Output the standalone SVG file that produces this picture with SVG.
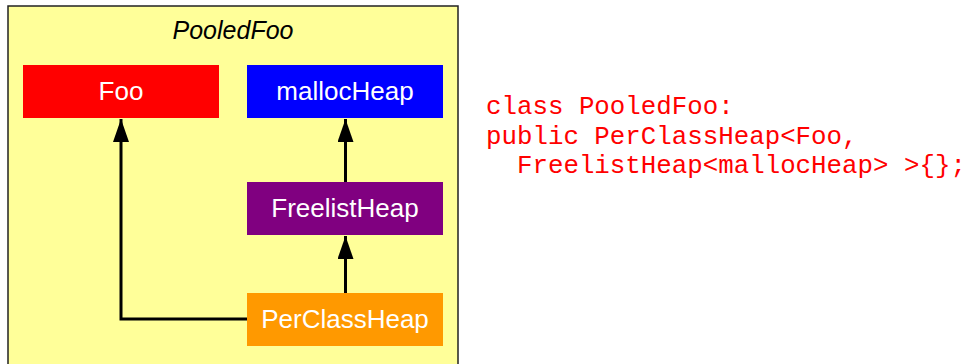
<svg xmlns="http://www.w3.org/2000/svg" width="971" height="364" viewBox="0 0 971 364">
<defs>
<style>
.lbl{font-family:"Liberation Sans",Arial,sans-serif;font-size:26px;fill:#fff;text-anchor:middle}
.code{font-family:"Liberation Mono","Courier New",monospace;font-size:25.8px;fill:#ff0000;white-space:pre}
.edge{stroke:#000;stroke-width:3;fill:none}
</style>
<marker id="ah" markerUnits="userSpaceOnUse" markerWidth="23" markerHeight="16" refX="23" refY="8" orient="auto" viewBox="0 0 23 16">
<path d="M0,0 L23,8 L0,16 Z" fill="#000"/>
</marker>
</defs>
<rect width="971" height="364" fill="#fff"/>
<g id="PooledFoo">
<rect x="8" y="6" width="450" height="370" fill="#ffff99" stroke="#222" stroke-width="1.5"/>
<text x="233" y="39" style="font-family:'Liberation Sans',Arial,sans-serif;font-size:25px;font-style:italic;text-anchor:middle;fill:#000">PooledFoo</text>
</g>
<g id="connectors">
<path class="edge" d="M247,319 H121 V119" marker-end="url(#ah)"/>
<path class="edge" d="M345.5,182 V119" marker-end="url(#ah)"/>
<path class="edge" d="M345.5,293 V236" marker-end="url(#ah)"/>
</g>
<g id="Foo">
<rect x="23" y="65" width="196" height="53" fill="#ff0000"/>
<text class="lbl" x="121" y="100">Foo</text>
</g>
<g id="mallocHeap">
<rect x="247" y="65" width="196" height="53" fill="#0000ff"/>
<text class="lbl" x="345" y="100">mallocHeap</text>
</g>
<g id="FreelistHeap">
<rect x="247" y="182" width="196" height="53" fill="#800080"/>
<text class="lbl" x="345" y="217">FreelistHeap</text>
</g>
<g id="PerClassHeap">
<rect x="247" y="293" width="196" height="53" fill="#ff9900"/>
<text class="lbl" x="345" y="328">PerClassHeap</text>
</g>
<g id="code">
<text class="code" x="486" y="114">class PooledFoo:</text>
<text class="code" x="486" y="143.5">public PerClassHeap&lt;Foo,</text>
<text class="code" x="486" y="173">  FreelistHeap&lt;mallocHeap&gt; &gt;{};</text>
</g>
</svg>
